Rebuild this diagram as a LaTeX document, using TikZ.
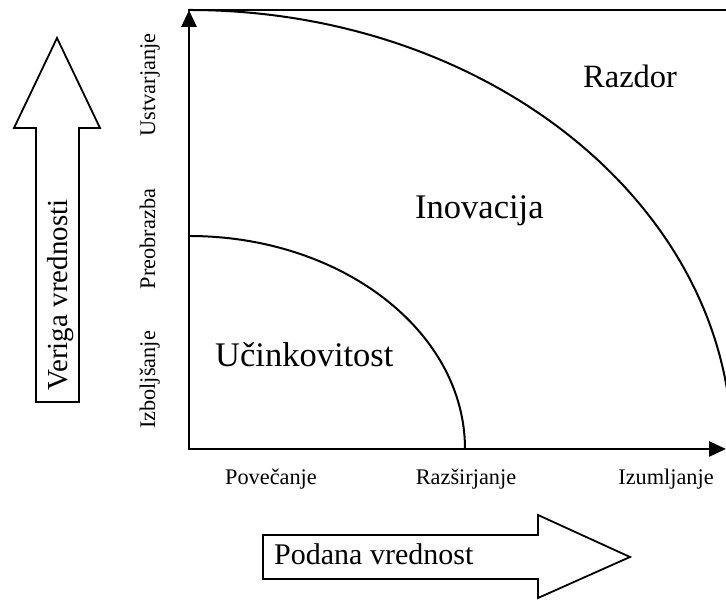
\documentclass[tikz,border=0pt]{standalone}
\usepackage{fontspec}
\setmainfont{Liberation Serif}
\usetikzlibrary{arrows.meta}
\begin{document}
\begin{tikzpicture}[x=1pt,y=1pt,
  axis/.style={line width=2.6pt,line cap=rect},
  axistip/.style={-{Triangle[length=17pt,width=15pt]}},
  curve/.style={line width=2pt},
  blockarrow/.style={draw,line width=1.8pt,line join=miter,fill=white},
  zone/.style={font=\fontsize{34.5}{38}\selectfont,inner sep=0pt},
  tick/.style={font=\fontsize{22.3}{24}\selectfont,inner sep=0pt},
  axislabel/.style={font=\fontsize{30}{33}\selectfont,inner sep=0pt}]
\useasboundingbox (0,0) rectangle (726,601);

% axes frame
\coordinate (O) at (189,152);
\coordinate (ytip) at (189,591);
\coordinate (xtip) at (726,152);
\coordinate (topR) at (727,591);
\draw[axis] (ytip) -- (topR);
\draw[axis,axistip] (O) -- (ytip);
\draw[axis,axistip] (O) -- (xtip);

% the two value boundaries
\coordinate (inner) at (189,365);
\draw[curve] (inner) arc[start angle=90,end angle=0,x radius=276,y radius=213];
\draw[curve] (ytip) arc[start angle=90,end angle=0,x radius=543,y radius=439];

% zone names
\node[zone,anchor=base west,font=\fontsize{32.5}{36}\selectfont] (razdor) at (583,513) {Razdor};
\node[zone,anchor=base west] (inovacija) at (415,382) {Inovacija};
\node[zone,anchor=base west] (ucinek) at (215,234) {Učinkovitost};

% horizontal scale
\node[tick,anchor=base] (povecanje) at (271,116) {Povečanje};
\node[tick,anchor=base] (razsirjanje) at (466,116) {Razširjanje};
\node[tick,anchor=base] (izumljanje) at (666,116) {Izumljanje};

% vertical scale
\node[tick,rotate=90,anchor=base] (izboljsanje) at (155,221) {Izboljšanje};
\node[tick,rotate=90,anchor=base] (preobrazba) at (155,362) {Preobrazba};
\node[tick,rotate=90,anchor=base] (ustvarjanje) at (155,516) {Ustvarjanje};

% vertical block arrow
\draw[blockarrow] (36,199) -- (79,199) -- (79,473) -- (100,473) -- (57,563)
  -- (14,473) -- (36,473) -- cycle;
\node[axislabel,rotate=90,anchor=base,font=\fontsize{29}{32}\selectfont] (veriga) at (67,306) {Veriga vrednosti};

% horizontal block arrow
\draw[blockarrow] (263,22) -- (538,22) -- (538,3) -- (630,44) -- (538,86)
  -- (538,66) -- (263,66) -- cycle;
\node[axislabel,anchor=base west] (podana) at (274,36) {Podana vrednost};
\end{tikzpicture}
\end{document}
